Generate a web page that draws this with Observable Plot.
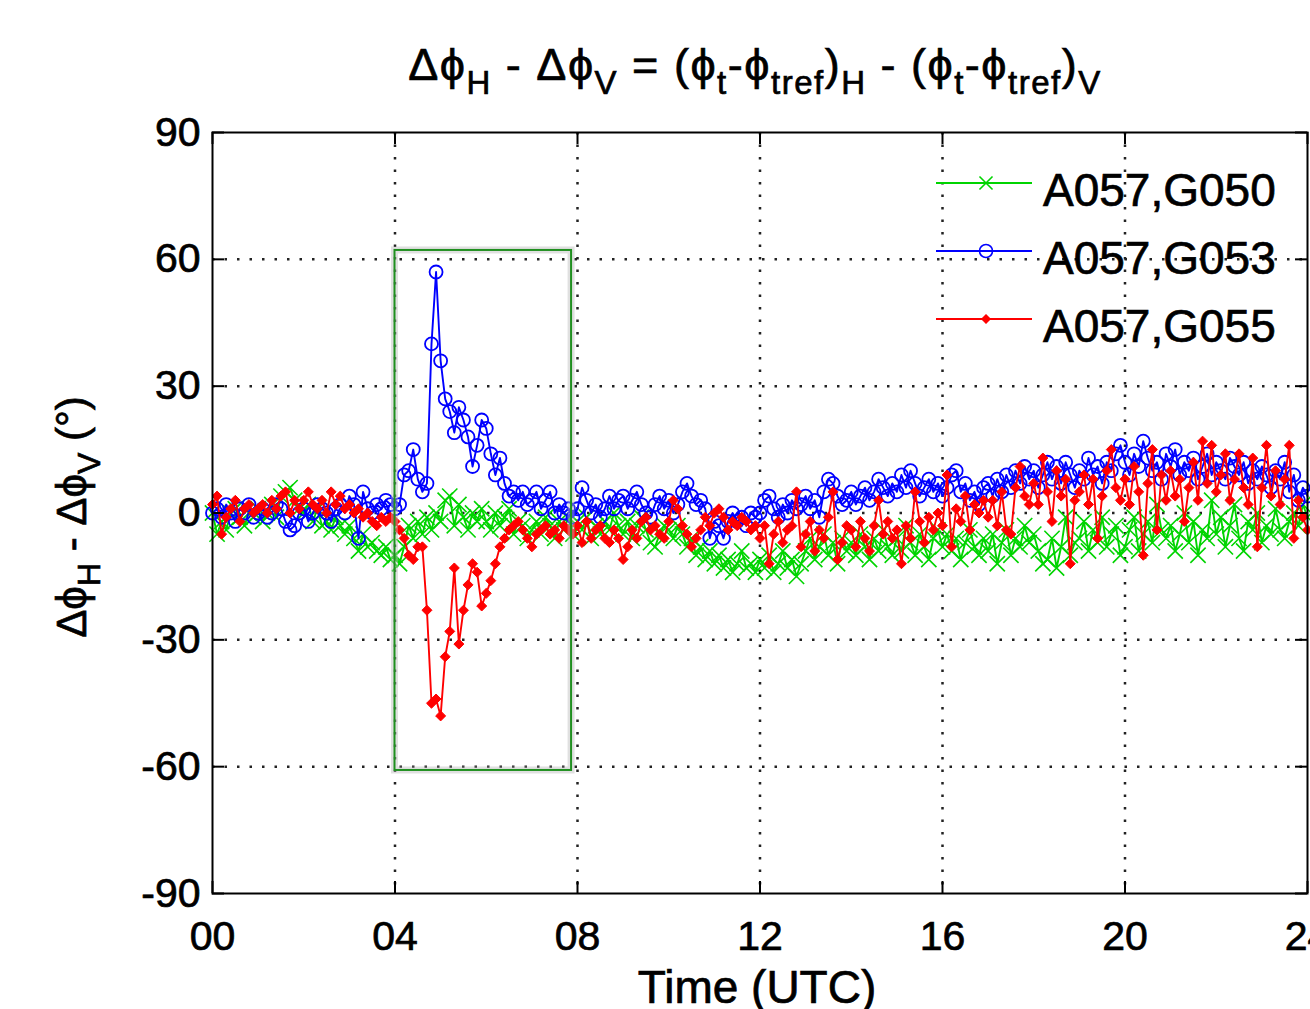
<!DOCTYPE html>
<html><head><meta charset="utf-8">
<script src="https://cdn.jsdelivr.net/npm/d3@7"></script>
<script src="https://cdn.jsdelivr.net/npm/@observablehq/plot@0.6"></script>
<style>
html,body{margin:0;padding:0;background:#fff;overflow:hidden;}
#chart{width:1310px;height:1009px;overflow:hidden;}
#chart text{stroke:black;stroke-width:0.7px;paint-order:stroke;}
</style></head><body><div id="chart"></div>
<script>
// sampling: one value every 0.1 h, starting at 00 UTC
const startHour = 0;
const stepHours = 0.1;
const seriesNames = ["A057,G050", "A057,G053", "A057,G055"];
const seriesColors = ["#00d400", "#0000ff", "#ff0000"];

const g050 = [
  0, -5, -2, -4, 0, 1, -1, -3, 0, -1,
  1, -2, 0, 2, -1, 4, 5, 6, 3, 1,
  0, 2, -2, 1, -3, -2, -4, -1, -3, -5,
  -3, -6, -9, -5, -8, -7, -9, -10, -8, -11,
  -10, -12, -8, -3, -6, -2, -5, -1, -4, 0,
  -2, 3, 4, -3, 2, -1, -4, 0, -2, 1,
  -2, -4, 0, -3, -1, 1, -5, -2, -3, -6,
  -4, -2, -5, -1, -3, -6, -2, -4, -1, -5,
  -2, -4, -1, -6, -3, -5, -2, -4, 0, -3,
  -5, -2, -6, -3, -1, -4, -7, -8, -5, -3,
  -4, -6, -3, -5, -8, -6, -10, -8, -11, -9,
  -12, -10, -13, -11, -14, -12, -9, -13, -12, -14,
  -11, -13, -10, -14, -12, -9, -13, -11, -15, -12,
  -9, -6, -11, -8, -5, -10, -7, -12, -6, -9,
  -7, -10, -5, -8, -11, -6, -9, -4, -8, -10,
  -6, -9, -3, -7, -10, -5, -8, -11, -6, -4,
  -8, -5, -9, -6, -11, -7, -4, -8, -10, -6,
  -9, -5, -12, -7, -4, -10, -6, -8, -3, -7,
  -5, -9, -12, -11, -6, -13, -8, -1, -10, -7,
  -6, -2, -9, -4, -7, -1, -8, -5, -3, -10,
  -8, -4, -1, -9, -5, -2, -7, 2, -4, -6,
  -3, -9, -5, 0, -7, -2, -10, -4, -6, 3,
  -5, -1, -8, -3, 2, -6, -9, -2, -4, 0,
  -7, -3, -5, 1, -4, -6, -2, 0, -3, 2,
  -1
];

const g053 = [
  0, 1, -1, 2, 0, -2, 1, 0, 2, -1,
  0, 1, -1, 0, 2, 1, -2, -4, -3, 0,
  1, -2, 0, 2, 1, 0, -2, 1, 2, 0,
  4, 2, -6, 5, 1, 0, 2, 1, 3, 2,
  1, 2, 9, 10, 15, 8, 5, 7, 40, 57,
  36, 27, 24, 19, 25, 22, 18, 11, 16, 22,
  20, 14, 9, 13, 7, 4, 5, 3, 5, 2,
  3, 5, 1, 3, 5, 0, 2, 0, 1, -1,
  1, 6, 3, 0, 2, -1, 1, 4, 1, 3,
  4, 1, 3, 5, 2, 0, -1, 2, 4, 1,
  3, 0, 2, 5, 7, 4, 2, 3, 1, -6,
  -2, -3, -6, -2, 0, -2, -1, -3, 0, -1,
  0, 3, 4, 1, -1, 2, 0, 3, 1, 2,
  4, 1, 3, -1, 5, 8, 7, 4, 2, 3,
  5, 2, 4, 6, 3, 5, 8, 6, 4, 7,
  5, 9, 6, 10, 7, 4, 6, 8, 5, 7,
  4, 6, 9, 10, 5, 7, 3, 5, 2, 6,
  7, 4, 8, 5, 9, 6, 10, 7, 11, 8,
  10, 6, 9, 12, 8, 11, 7, 12, 9, 6,
  10, 8, 13, 9, 11, 7, 12, 10, 14, 16,
  12, 9, 14, 11, 17, 13, 10, 12, 8, 14,
  11, 15, 9, 12, 10, 13, 8, 11, 14, 9,
  12, 10, 8, 13, 11, 9, 12, 7, 10, 8,
  11, 9, 6, 10, 8, 12, 5, 9, 3, 6,
  4
];

const g055 = [
  2, 4, -5, -1, 1, 3, -2, 1, 2, 0,
  1, 2, 0, 3, 1, 4, 5, 0, 3, 1,
  3, 5, 2, 1, 3, 0, 5, 2, 4, 1,
  2, 0, 1, -1, 0, -2, -3, -1, -2, -1,
  -2, -4, -6, -10, -11, -8, -8, -23, -45, -44,
  -48, -34, -28, -13, -31, -23, -17, -12, -14, -22,
  -19, -16, -12, -8, -6, -4, -3, -2, -4, -6,
  -8, -5, -4, -3, -5, -4, -6, -3, -4, -5,
  -3, -7, -2, -6, -4, -3, -6, -7, -4, -6,
  -11, -8, -4, -6, -2, -1, -4, -3, -5, -6,
  -2, 3, 1, -3, -5, -8, -6, -4, -1, -3,
  0, 1, -1, -4, -2, -3, -1, -2, -4, -3,
  -6, -3, -12, -5, -2, -7, -4, -3, 5, -8,
  -5, -2, -9, -4, -6, -1, 5, -11, -7, -3,
  -4, -8, -2, -6, -9, -3, 3, -5, -2, -6,
  -4, -12, -3, -6, 5, -2, -7, -1, -4, 0,
  -3, 9, -8, 1, -2, 4, -4, 2, 0, 3,
  -1, 3, -3, 5, -4, -5, 6, 11, 4, 2,
  7, 2, 13, 5, -2, 10, 4, 8, -12, 3,
  5, 9, 2, 8, -6, 4, 10, 15, 6, 3,
  8, 2, 11, 5, -10, 7, 15, -4, 9, 3,
  10, 4, 8, -2, 6, 12, 3, 17, 7, 16,
  5, 9, 14, 3, 8, 14, 6, 2, 13, -8,
  6, 16, 4, 10, 2, 8, 16, -6, 3, -1,
  -4
];

const xTicks = [0, 4, 8, 12, 16, 20, 24];
const yTicks = [-90, -60, -30, 0, 30, 60, 90];
const xTickLabels = ["00", "04", "08", "12", "16", "20", "24"];
const yTickLabels = ["-90", "-60", "-30", "0", "30", "60", "90"];
const highlightBox = [{x1: 4.0, x2: 7.87, y1: -60.9, y2: 62.1}];
const titleParts = [["Δϕ",""],["H","sub"],[" - Δϕ",""],["V","sub"],[" = (ϕ",""],["t","sub"],["-ϕ",""],["tref","sub"],[")",""],["H","sub"],[" - (ϕ",""],["t","sub"],["-ϕ",""],["tref","sub"],[")",""],["V","sub"]];
const yLabelParts = [["Δϕ",""],["H","sub"],[" - Δϕ",""],["V","sub"],[" (°)",""]];
const xLabel = "Time (UTC)";

const allSeries = [g050, g053, g055];
const rows = allSeries.map((arr, k) => arr.map((v, i) => ({t: startHour + i * stepHours, v, s: seriesNames[k]})));

const W = 1310, H = 1009;
const mL = 212, mR = 3, mT = 132, mB = 116;
const innerW = W - mL - mR, innerH = H - mT - mB;
const FONT = "'Liberation Sans', Arial, Helvetica, sans-serif";
const dotStyle = {stroke: "#222", strokeOpacity: 1, strokeWidth: 2.5, strokeDasharray: "2.5,10"};

const marks = [
  Plot.gridX(xTicks.slice(1, -1), dotStyle),
  Plot.gridY(yTicks.slice(1, -1), dotStyle),
];
rows.forEach((data, k) => {
  marks.push(Plot.line(data, {x: "t", y: "v", stroke: seriesColors[k], strokeWidth: 1.9}));
  if (k === 0) marks.push(Plot.dot(data, {x: "t", y: "v", symbol: () => "times", r: 7, stroke: seriesColors[k], strokeWidth: 1.6}));
  if (k === 1) marks.push(Plot.dot(data, {x: "t", y: "v", symbol: () => "circle", r: 6.5, fill: "none", stroke: seriesColors[k], strokeWidth: 1.8}));
  if (k === 2) marks.push(Plot.dot(data, {x: "t", y: "v", symbol: () => "diamond2", r: 4.5, fill: seriesColors[k], stroke: seriesColors[k], strokeWidth: 1}));
});
marks.push(
  Plot.rect(highlightBox, {x1: "x1", x2: "x2", y1: "y1", y2: "y2", fill: "none", stroke: "#bbb", strokeOpacity: 0.45, strokeWidth: 7}),
  Plot.rect(highlightBox, {x1: "x1", x2: "x2", y1: "y1", y2: "y2", fill: "none", stroke: "#1f8f1f", strokeWidth: 2}),
  Plot.frame({stroke: "black", strokeWidth: 2}),
  Plot.tickX(xTicks, {x: d => d, insetTop: innerH - 12, stroke: "black", strokeWidth: 2}),
  Plot.tickX(xTicks, {x: d => d, insetBottom: innerH - 12, stroke: "black", strokeWidth: 2}),
  Plot.tickY(yTicks, {y: d => d, insetRight: innerW - 12, stroke: "black", strokeWidth: 2}),
  Plot.tickY(yTicks, {y: d => d, insetLeft: innerW - 12, stroke: "black", strokeWidth: 2}),
  Plot.axisX(xTicks, {tickSize: 0, tickPadding: 27, tickFormat: d => xTickLabels[xTicks.indexOf(d)], fontSize: 41, label: null}),
  Plot.axisY(yTicks, {tickSize: 0, tickPadding: 12, tickFormat: d => yTickLabels[yTicks.indexOf(d)], fontSize: 41, label: null})
);

const chart = Plot.plot({
  width: W, height: H,
  marginLeft: mL, marginRight: mR, marginTop: mT, marginBottom: mB,
  x: {domain: [0, 24]},
  y: {domain: [-90, 90]},
  style: {fontFamily: FONT, fontSize: "41px", color: "black", background: "white", overflow: "hidden"},
  marks
});
document.getElementById("chart").appendChild(chart);

const svg = d3.select(chart);

function richText(g, parts, size, subSize, subShift) {
  let shifted = false;
  parts.forEach(([txt, kind]) => {
    const ts = g.append("tspan").text(txt);
    if (kind === "sub") {
      ts.attr("font-size", subSize).attr("dy", shifted ? 0 : subShift);
      shifted = true;
    } else {
      ts.attr("font-size", size).attr("dy", shifted ? -subShift : 0);
      shifted = false;
    }
  });
}

// title
const title = svg.append("text").attr("x", 755).attr("y", 80).attr("text-anchor", "middle")
  .attr("font-family", FONT).attr("fill", "black").attr("letter-spacing", 1.5);
richText(title, titleParts, 45, 33, 14);

// y label
const yl = svg.append("text").attr("transform", "translate(86,517) rotate(-90)").attr("text-anchor", "middle")
  .attr("font-family", FONT).attr("fill", "black");
richText(yl, yLabelParts, 42, 32, 14);

// x label
svg.append("text").attr("x", 757).attr("y", 1003).attr("text-anchor", "middle")
  .attr("font-family", FONT).attr("font-size", 46).attr("fill", "black").text(xLabel);

// legend
const legendY = [183, 251, 319];
seriesNames.forEach((name, k) => {
  const y = legendY[k];
  svg.append("line").attr("x1", 936).attr("x2", 1032).attr("y1", y).attr("y2", y)
    .attr("stroke", seriesColors[k]).attr("stroke-width", 1.8);
  const symType = [d3.symbolTimes, d3.symbolCircle, d3.symbolDiamond2][k];
  const r = [6, 6.5, 3.5][k];
  svg.append("path").attr("d", d3.symbol(symType, Math.PI * r * r)())
    .attr("transform", `translate(986,${y})`)
    .attr("fill", k === 2 ? seriesColors[k] : "none")
    .attr("stroke", seriesColors[k]).attr("stroke-width", 1.6);
  svg.append("text").attr("x", 1043).attr("y", y + 23).attr("text-anchor", "start").attr("font-family", FONT)
    .attr("font-size", 46).attr("fill", "black").text(name);
});
</script></body></html>
